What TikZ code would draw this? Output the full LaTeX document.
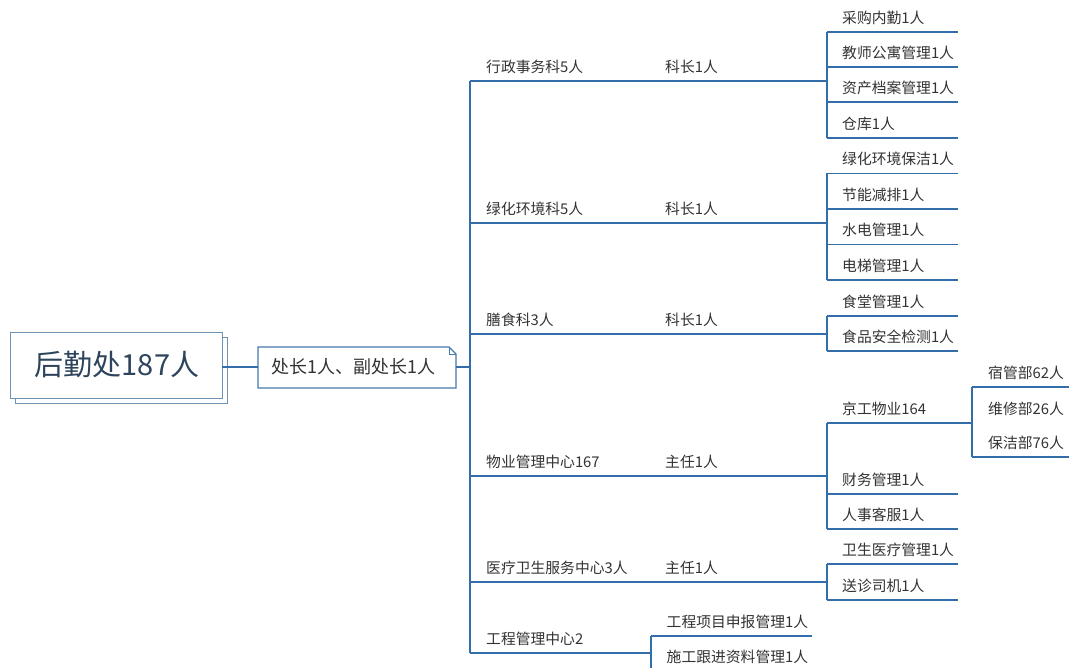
\documentclass[tikz,border=0pt]{standalone}
\usepackage{fontspec}
\setmainfont{Noto Sans CJK SC}
\definecolor{lineblue}{RGB}{52,110,170}
\definecolor{boxblue}{RGB}{112,146,178}
\definecolor{notebl}{RGB}{70,120,175}
\definecolor{txt}{RGB}{51,51,51}
\definecolor{roottxt}{RGB}{45,68,92}
\begin{document}
\begin{tikzpicture}[x=1pt,y=-1pt,
  ln/.style={draw=lineblue, line width=1.1pt},
  lbl/.style={anchor=base west, inner sep=0pt, text=txt, font=\fontsize{14.8}{16}\selectfont},
  rootbox/.style={draw=boxblue, line width=1.1pt, fill=white, anchor=north west, minimum width=212pt, minimum height=66pt, inner sep=0pt},
]
\useasboundingbox (0,0) rectangle (1069,668);
\fill[white] (0,0) rectangle (1069,668);
% root
\node[rootbox] (rootshadow) at (15,337) {};
\node[rootbox] (rootbox) at (10,332) {};
\node[anchor=base, inner sep=0pt, text=roottxt, font=\fontsize{29}{31}\selectfont] (root) at (117,376) {后勤处187人};
% second node with folded corner
\draw[draw=notebl, line width=1.1pt, fill=white] (258,347) -- (449,347) -- (456,354) -- (456,388) -- (258,388) -- cycle;
\draw[draw=notebl, line width=0.8pt] (449,347) -- (449,354) -- (456,354);
\node[anchor=base west, inner sep=0pt, text=txt, font=\fontsize{18}{20}\selectfont] (chief) at (271,374) {处长1人、副处长1人};
\coordinate (rootR) at (222,367);
\coordinate (chiefL) at (258,367);
\coordinate (chiefR) at (456,367);
\coordinate (trunk) at (470,367);
\draw[ln] (rootR) -- (chiefL);
\draw[ln] (chiefR) -- (trunk);
% trunk
\coordinate (tTop) at (470,81);
\coordinate (tBot) at (470,653);
\draw[ln] (tTop) -- (tBot);

% ---------- branch A ----------
\node[lbl] (bA) at (486,72.5) {行政事务科5人};
\node[lbl] (hA) at (665,72.5) {科长1人};
\coordinate (vA) at (827,81);
\draw[ln] (tTop) -- (vA);
\draw[ln] (827,32) -- (827,138);
\foreach \y in {32,67,102,138} \draw[ln] (827,\y) -- (958,\y);
\node[lbl] (a1) at (842,23.5) {采购内勤1人};
\node[lbl] (a2) at (842,58.5) {教师公寓管理1人};
\node[lbl] (a3) at (842,93.5) {资产档案管理1人};
\node[lbl] (a4) at (842,129.5) {仓库1人};

% ---------- branch B ----------
\node[lbl] (bB) at (486,214.5) {绿化环境科5人};
\node[lbl] (hB) at (665,214.5) {科长1人};
\coordinate (tB) at (470,223);
\coordinate (vB) at (827,223);
\draw[ln] (tB) -- (vB);
\draw[ln] (827,173.5) -- (827,280);
\foreach \y in {173.5,209,244.5,280} \draw[ln] (827,\y) -- (958,\y);
\node[lbl] (b1) at (842,165) {绿化环境保洁1人};
\node[lbl] (b2) at (842,200.5) {节能减排1人};
\node[lbl] (b3) at (842,236) {水电管理1人};
\node[lbl] (b4) at (842,271.5) {电梯管理1人};

% ---------- branch C ----------
\node[lbl] (bC) at (486,325.5) {膳食科3人};
\node[lbl] (hC) at (665,325.5) {科长1人};
\coordinate (tC) at (470,334);
\coordinate (vC) at (827,334);
\draw[ln] (tC) -- (vC);
\draw[ln] (827,316) -- (827,351);
\foreach \y in {316,351} \draw[ln] (827,\y) -- (958,\y);
\node[lbl] (c1) at (842,307.5) {食堂管理1人};
\node[lbl] (c2) at (842,342.5) {食品安全检测1人};

% ---------- branch D ----------
\node[lbl] (bD) at (486,467.5) {物业管理中心167};
\node[lbl] (hD) at (665,467.5) {主任1人};
\coordinate (tD) at (470,476);
\coordinate (vD) at (827,476);
\draw[ln] (tD) -- (vD);
\draw[ln] (827,423) -- (827,529);
\coordinate (jgL) at (827,423);
\coordinate (jgR) at (972,423);
\draw[ln] (jgL) -- (jgR);
\foreach \y in {494,529} \draw[ln] (827,\y) -- (958,\y);
\node[lbl] (d1) at (842,414.5) {京工物业164};
\node[lbl] (d2) at (842,485.5) {财务管理1人};
\node[lbl] (d3) at (842,520.5) {人事客服1人};
\draw[ln] (972,387) -- (972,457);
\foreach \y in {387,457} \draw[ln] (972,\y) -- (1069,\y);
\node[lbl] (e1) at (988,378.5) {宿管部62人};
\node[lbl] (e2) at (988,414.5) {维修部26人};
\node[lbl] (e3) at (988,448.5) {保洁部76人};

% ---------- branch E ----------
\node[lbl] (bE) at (486,573.5) {医疗卫生服务中心3人};
\node[lbl] (hE) at (665,573.5) {主任1人};
\coordinate (tE) at (470,582);
\coordinate (vE) at (827,582);
\draw[ln] (tE) -- (vE);
\draw[ln] (827,564) -- (827,600);
\foreach \y in {564,600} \draw[ln] (827,\y) -- (958,\y);
\node[lbl] (f1) at (842,555.5) {卫生医疗管理1人};
\node[lbl] (f2) at (842,591.5) {送诊司机1人};

% ---------- branch F ----------
\node[lbl] (bF) at (486,644.5) {工程管理中心2};
\coordinate (vF) at (651,653);
\draw[ln] (tBot) -- (vF);
\draw[ln] (651,636) -- (651,668);
\draw[ln] (651,636) -- (812,636);
\node[lbl] (g1) at (666.5,627.5) {工程项目申报管理1人};
\node[lbl] (g2) at (666.5,662.5) {施工跟进资料管理1人};
\end{tikzpicture}
\end{document}
